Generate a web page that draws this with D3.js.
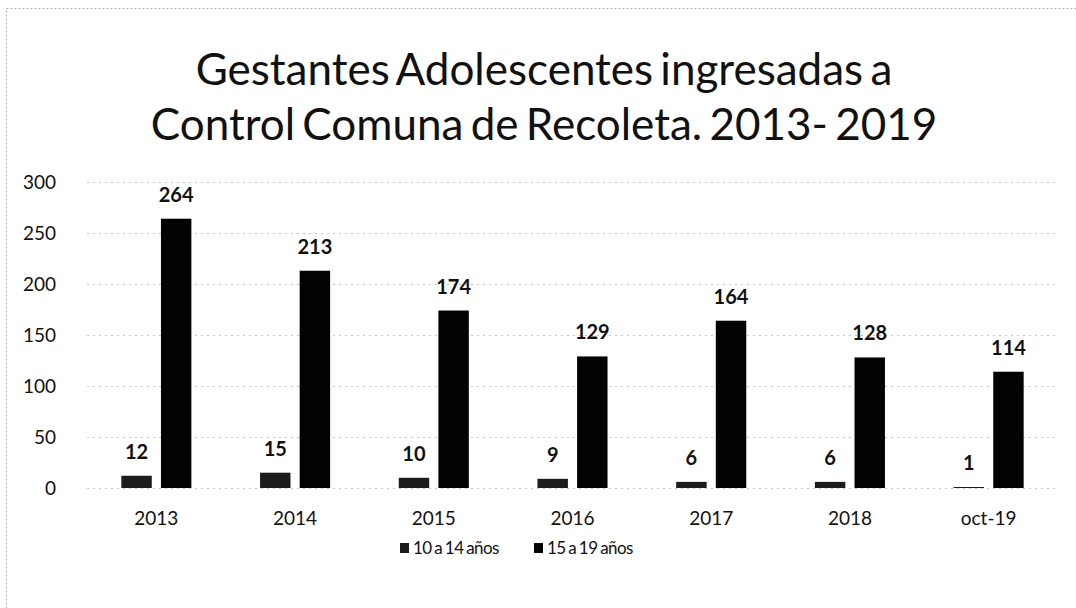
<!DOCTYPE html>
<html>
<head>
<meta charset="utf-8">
<script src="https://cdn.jsdelivr.net/npm/d3@7"></script>
<style>
  body { margin: 0; background: #fff; }
  text { font-family: Lato, "Noto Sans", sans-serif; fill: #111; }
</style>
</head>
<body>
<svg id="chart"></svg>
<script>
// data
const categories = ["2013", "2014", "2015", "2016", "2017", "2018", "oct-19"];
const seriesNames = ["10 a 14 años", "15 a 19 años"];
const ages10to14 = [12, 15, 10, 9, 6, 6, 1];
const ages15to19 = [264, 213, 174, 129, 164, 128, 114];
const yTicks = [0, 50, 100, 150, 200, 250, 300];
const titleLines = ["Gestantes Adolescentes ingresadas a", "Control Comuna de Recoleta. 2013- 2019"];

// setup chart
const width = 1076;
const height = 608;
const plotLeft = 87;
const plotRight = 1058;
const plotTop = 182;
const plotBottom = 488;
const barColors = ["#1c1c1c", "#030303"];

const rows = categories.map((c, i) => ({ cat: c, values: [ages10to14[i], ages15to19[i]] }));

const svg = d3.select("#chart")
   .attr("width", width)
   .attr("height", height);

// outer chart border (dotted from the scan)
svg.append("rect")
   .attr("x", 6.5)
   .attr("y", 8.5)
   .attr("width", width + 20)
   .attr("height", height + 20)
   .attr("fill", "none")
   .attr("stroke", "#b0b0b0")
   .attr("stroke-dasharray", "2,2");

// title
svg.append("g")
   .selectAll("text")
   .data(titleLines)
   .enter()
   .append("text")
   .attr("x", 544)
   .attr("y", (d, i) => 85 + i * 55)
   .attr("text-anchor", "middle")
   .style("font-size", "44px")
   .style("word-spacing", "-4px")
   .text((d) => d);

// scales
const x0 = d3.scaleBand()
   .domain(categories)
   .range([plotLeft, plotRight])
   .paddingInner(0.495)
   .paddingOuter(0.2475);
const x1 = d3.scaleBand()
   .domain([0, 1])
   .range([0, x0.bandwidth()])
   .paddingInner(0.232);
const y = d3.scaleLinear().domain([0, 300]).range([plotBottom, plotTop]);

// y axis with gridlines
const yAxis = d3.axisLeft(y)
   .tickValues(yTicks)
   .tickSize(-(plotRight - plotLeft))
   .tickPadding(31);
const yG = svg.append("g")
   .attr("transform", `translate(${plotLeft}, 0)`)
   .call(yAxis);
yG.select(".domain").remove();
yG.selectAll(".tick line")
   .attr("stroke", "#c4c4c4")
   .attr("stroke-dasharray", "2,4");
yG.selectAll(".tick text")
   .style("font-size", "19px")
   .style("font-family", "Lato, sans-serif")
   .attr("fill", "#111");

// x axis
const xAxis = d3.axisBottom(x0).tickSize(0).tickPadding(24);
const xG = svg.append("g")
   .attr("transform", `translate(0, ${plotBottom})`)
   .call(xAxis);
xG.select(".domain").remove();
xG.selectAll(".tick text")
   .style("font-size", "19px")
   .style("font-family", "Lato, sans-serif")
   .attr("fill", "#111");

// bars
const groups = svg.append("g")
   .selectAll("g")
   .data(rows)
   .enter()
   .append("g")
   .attr("transform", (d) => `translate(${x0(d.cat)}, 0)`);

groups.selectAll("rect")
   .data((d) => d.values)
   .enter()
   .append("rect")
   .attr("x", (d, i) => x1(i))
   .attr("y", (d) => y(d))
   .attr("width", x1.bandwidth())
   .attr("height", (d) => plotBottom - y(d))
   .attr("fill", (d, i) => barColors[i]);

groups.selectAll("text")
   .data((d) => d.values)
   .enter()
   .append("text")
   .attr("x", (d, i) => x1(i) + x1.bandwidth() / 2)
   .attr("y", (d) => y(d) - 17)
   .attr("text-anchor", "middle")
   .style("font-size", "20px")
   .style("font-weight", "bold")
   .text((d) => d);

// legend
const legend = svg.append("g")
   .selectAll("g")
   .data(seriesNames)
   .enter()
   .append("g")
   .attr("transform", (d, i) => `translate(${400 + i * 134}, 0)`);
legend.append("rect")
   .attr("x", 0)
   .attr("y", 543)
   .attr("width", 9)
   .attr("height", 10)
   .attr("fill", (d, i) => barColors[i]);
legend.append("text")
   .attr("x", 13)
   .attr("y", 554)
   .style("font-size", "17px")
   .style("letter-spacing", "-0.6px")
   .style("word-spacing", "-1px")
   .text((d) => d);
</script>
</body>
</html>
